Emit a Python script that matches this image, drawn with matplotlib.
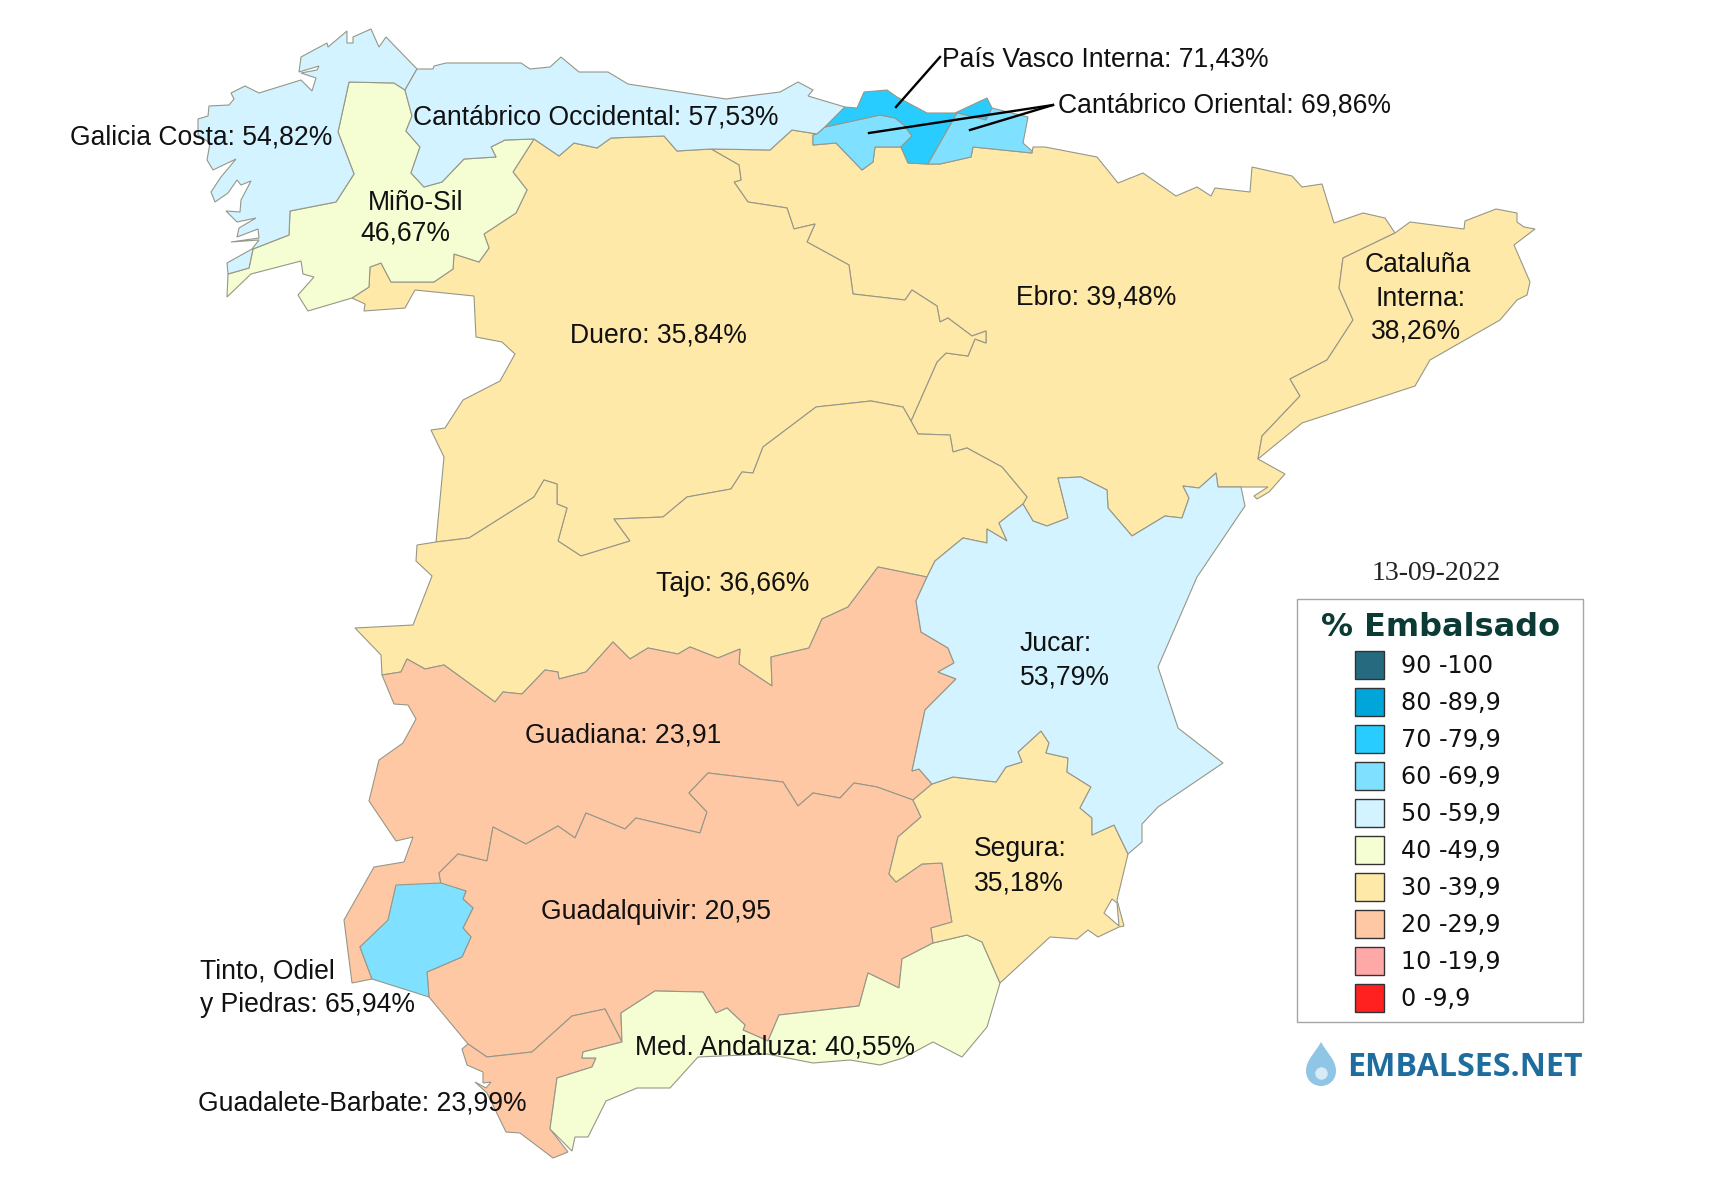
import matplotlib
matplotlib.use("Agg")
import matplotlib.pyplot as plt
from matplotlib.patches import Rectangle, PathPatch
from matplotlib.path import Path

# percent full per basin, the outlines are traced in picture pixels
names = ['Ebro', 'Duero', 'Tajo', 'Guadiana', 'Guadalquivir', 'Tinto', 'Guadalete', 'Med Andaluza',
         'Segura', 'Jucar', 'Cataluna', 'Mino', 'Galicia', 'Cant Occ', 'Cant Or 1', 'Pais Vasco', 'Cant Or 2']
values = [39.48, 35.84, 36.66, 23.91, 20.95, 65.94, 23.99, 40.55,
          35.18, 53.79, 38.26, 46.67, 54.82, 57.53, 69.86, 71.43, 69.86]

ebro = [(711,149),(770,150),(792,130),(817,134),(813,135),(813,145),(836,143),(862,170),(873,162),(875,147),(901,147),
        (908,163),(928,164),(940,164),(971,157),(973,147),(1032,153),(1033,147),(1045,147),(1097,157),(1118,183),(1143,173),
        (1176,196),(1197,187),(1211,196),(1215,188),(1250,192),(1252,167),(1292,176),(1302,187),(1322,184),(1334,223),
        (1363,213),(1385,218),(1395,233),(1343,258),(1339,288),(1353,320),(1327,360),(1290,379),(1300,396),(1262,436),
        (1258,459),(1285,474),(1269,492),(1257,499),(1254,496),(1268,487),(1241,487),(1218,487),(1216,473),(1199,488),
        (1183,486),(1189,498),(1182,518),(1165,516),(1132,536),(1108,508),(1107,490),(1081,477),(1058,478),(1068,518),
        (1047,526),(1033,521),(1023,504),(1027,497),(1002,467),(967,448),(953,452),(950,435),(918,434),(911,421),(937,362),
        (946,353),(968,356),(975,339),(986,343),(986,331),(972,336),(948,318),(940,322),(937,306),(912,290),(905,300),
        (853,294),(849,265),(807,242),(815,224),(794,229),(787,208),(748,202),(734,182),(741,180),(739,165)]
duero = [(534,139),(559,156),(574,143),(597,148),(611,138),(664,136),(677,151),(711,149),(739,165),(741,180),(734,182),
         (748,202),(787,208),(794,229),(815,224),(807,242),(849,265),(853,294),(905,300),(912,290),(937,306),(940,322),
         (948,318),(972,336),(986,331),(986,343),(975,339),(968,356),(946,353),(937,362),(911,421),(903,407),(871,401),
         (816,407),(763,447),(753,473),(742,472),(731,489),(687,497),(663,517),(614,519),(630,541),(581,556),(558,541),
         (567,508),(557,504),(557,484),(544,480),(534,497),(469,538),(436,542),(444,457),(431,430),(445,428),(463,400),
         (500,381),(515,354),(502,342),(476,337),(474,296),(415,290),(405,308),(364,311),(365,304),(352,298),(369,287),
         (370,267),(381,263),(391,282),(434,282),(453,269),(454,254),(479,262),(489,248),(484,234),(516,213),(527,190),
         (513,172)]
tajo = [(911,421),(918,434),(950,435),(953,452),(967,448),(1002,467),(1027,497),(1023,504),(999,523),(1007,541),(987,529),
        (987,543),(963,538),(935,561),(927,577),(878,567),(848,607),(822,619),(809,648),(771,657),(772,686),(739,664),
        (740,649),(718,658),(690,647),(678,654),(648,648),(630,659),(613,642),(586,672),(559,679),(558,672),(545,670),
        (522,694),(503,692),(495,702),(444,665),(425,669),(407,659),(401,672),(382,675),(381,655),(355,628),(413,625),
        (432,576),(416,561),(417,545),(436,542),(469,538),(534,497),(544,480),(557,484),(557,504),(567,508),(558,541),
        (581,556),(630,541),(614,519),(663,517),(687,497),(731,489),(742,472),(753,473),(763,447),(816,407),(871,401),
        (903,407)]
guadiana = [(382,675),(401,672),(407,659),(425,669),(444,665),(495,702),(503,692),(522,694),(545,670),(558,672),(559,679),
            (586,672),(613,642),(630,659),(648,648),(678,654),(690,647),(718,658),(740,649),(739,664),(772,686),(771,657),
            (809,648),(822,619),(848,607),(878,567),(927,577),(916,601),(921,632),(948,648),(954,663),(938,672),(956,679),
            (925,710),(912,771),(919,769),(932,784),(913,800),(877,787),(854,783),(840,798),(813,793),(798,806),(783,782),
            (708,773),(689,793),(707,812),(700,833),(636,818),(625,829),(586,813),(575,838),(558,826),(526,844),(493,827),
            (487,861),(458,854),(439,873),(441,884),(396,886),(388,921),(360,947),(372,979),(352,983),(344,920),(374,867),
            (404,862),(413,837),(396,841),(369,801),(379,760),(403,743),(416,719),(408,705),(394,704)]
guadalquivir = [(441,884),(439,873),(458,854),(487,861),(493,827),(526,844),(558,826),(575,838),(586,813),(625,829),(636,818),
                (700,833),(707,812),(689,793),(708,773),(783,782),(798,806),(813,793),(840,798),(854,783),(877,787),(913,800),
                (921,817),(898,837),(889,874),(896,882),(922,864),(942,863),(952,922),(931,928),(933,943),(902,959),(899,988),
                (868,973),(859,1006),(779,1015),(768,1041),(743,1030),(745,1025),(727,1008),(716,1013),(703,992),(655,991),
                (621,1013),(622,1042),(605,1009),(572,1016),(532,1052),(487,1057),(468,1044),(429,997),(427,972),(462,957),
                (471,937),(463,928),(473,908),(463,899),(466,891)]
tinto = [(396,885),(441,883),(466,891),(463,899),(473,908),(463,928),(471,937),(462,957),(427,972),(429,997),(372,979),
         (360,947),(388,920)]
guadalete = [(468,1044),(462,1049),(467,1065),(483,1072),(483,1083),(491,1082),(486,1088),(475,1082),(487,1093),(506,1132),
             (520,1133),(553,1158),(568,1152),(550,1129),(557,1078),(592,1067),(596,1058),(582,1058),(583,1052),(622,1042),
             (605,1009),(572,1016),(532,1052),(487,1057)]
med_andaluza = [(622,1042),(583,1052),(582,1058),(596,1058),(592,1067),(557,1078),(550,1129),(572,1151),(575,1137),(588,1137),
                (606,1101),(637,1088),(670,1088),(698,1057),(767,1054),(813,1063),(850,1060),(880,1065),(903,1058),(933,1042),
                (962,1057),(987,1027),(1000,983),(982,942),(967,935),(933,943),(902,959),(899,988),(868,973),(859,1006),
                (779,1015),(768,1041),(743,1030),(745,1025),(727,1008),(716,1013),(703,992),(655,991),(621,1013)]
segura = [(913,800),(932,784),(953,777),(996,782),(1006,767),(1022,762),(1018,752),(1041,731),(1049,743),(1046,753),(1068,758),
          (1067,772),(1091,787),(1080,808),(1092,818),(1092,835),(1114,825),(1128,854),(1117,900),(1124,926),(1119,927),
          (1098,937),(1088,930),(1077,939),(1050,937),(1000,983),(982,942),(967,935),(933,943),(931,928),(952,922),(942,863),
          (922,864),(896,882),(889,874),(898,837),(921,817)]
mar_menor = [(1112,899),(1117,903),(1119,926),(1104,913)]
jucar = [(1023,504),(1033,521),(1047,526),(1068,518),(1058,478),(1081,477),(1107,490),(1108,508),(1132,536),(1165,516),(1182,518),
         (1189,498),(1183,486),(1199,488),(1216,473),(1218,487),(1241,487),(1245,506),(1197,577),(1158,667),(1178,728),
         (1223,763),(1158,807),(1142,824),(1142,842),(1128,854),(1114,825),(1092,835),(1092,818),(1080,808),(1091,787),
         (1067,772),(1068,758),(1046,753),(1049,743),(1041,731),(1018,752),(1022,762),(1006,767),(996,782),(953,777),(932,784),
         (919,769),(912,771),(925,710),(956,679),(938,672),(954,663),(948,648),(921,632),(916,601),(927,577),(935,561),
         (963,538),(987,543),(987,529),(1007,541),(999,523)]
cataluna = [(1395,233),(1410,222),(1464,229),(1465,221),(1496,209),(1517,213),(1517,222),(1524,227),(1535,229),(1514,245),
            (1530,282),(1527,295),(1517,300),(1500,320),(1430,360),(1415,386),(1302,423),(1258,459),(1262,436),(1300,396),
            (1290,379),(1327,360),(1353,320),(1339,288),(1343,258)]
mino = [(349,82),(394,83),(405,90),(412,116),(406,131),(420,147),(411,173),(424,187),(442,182),(464,159),(496,157),(491,147),
        (505,140),(534,139),(513,172),(527,190),(516,213),(484,234),(489,248),(479,262),(454,254),(453,269),(434,282),(391,282),
        (381,263),(370,267),(369,287),(352,298),(308,311),(298,295),(314,277),(303,274),(301,261),(251,274),(227,297),(228,274),
        (249,268),(253,249),(289,235),(290,211),(336,202),(354,174),(338,132)]
galicia = [(405,90),(417,69),(386,37),(379,47),(371,29),(353,37),(353,43),(347,43),(347,31),(328,47),(327,43),(301,57),(299,72),
           (319,66),(317,70),(301,73),(316,78),(312,91),(301,80),(259,93),(245,86),(231,93),(234,99),(229,105),(209,106),(208,116),
           (198,119),(198,135),(210,143),(207,160),(213,170),(236,159),(221,177),(211,192),(215,202),(228,193),(237,180),(241,185),
           (251,181),(241,200),(240,212),(226,211),(237,222),(256,218),(239,228),(237,237),(258,229),(259,238),(231,242),(259,240),
           (252,249),(227,263),(228,274),(249,268),(253,249),(289,235),(290,211),(336,202),(354,174),(338,132),(349,82),(394,83)]
cant_occ = [(417,69),(433,69),(434,66),(446,63),(521,63),(530,69),(550,67),(561,57),(579,72),(608,72),(628,84),(726,99),(740,97),
            (780,92),(798,82),(813,90),(808,96),(845,107),(825,127),(817,134),(792,130),(770,150),(711,149),(677,151),(664,136),
            (611,138),(597,148),(574,143),(559,156),(534,139),(505,140),(491,147),(496,157),(464,159),(442,182),(424,187),(411,173),
            (420,147),(406,131),(412,116),(405,90)]
cant_or_1 = [(817,134),(825,127),(880,115),(895,118),(904,125),(912,136),(901,147),(875,147),(873,162),(862,170),(836,143),(813,145),(813,135)]
pais_vasco = [(825,127),(845,107),(857,108),(864,92),(887,90),(897,97),(927,113),(955,113),(987,98),(992,108),(986,120),(957,113),
              (928,164),(908,163),(901,147),(912,136),(904,125),(895,118),(880,115)]
cant_or_2 = [(957,113),(986,120),(992,108),(1028,117),(1023,143),(1032,151),(1032,153),(973,147),(971,157),(940,164),(928,164)]
outlines = [ebro, duero, tajo, guadiana, guadalquivir, tinto, guadalete, med_andaluza, segura, jucar, cataluna, mino, galicia,
            cant_occ, cant_or_1, pais_vasco, cant_or_2]

legend_bins = [90, 80, 70, 60, 50, 40, 30, 20, 10, 0]
legend_labels = ['90 -100', '80 -89,9', '70 -79,9', '60 -69,9', '50 -59,9', '40 -49,9', '30 -39,9', '20 -29,9', '10 -19,9', '0 -9,9']
legend_colors = ['#266a7f', '#00a5d9', '#29ccff', '#80e0ff', '#d2f3ff', '#f5fdd2', '#ffe9a8', '#ffc8a5', '#ffa8a8', '#ff2020']

labels = ['País Vasco Interna: 71,43%', 'Cantábrico Oriental: 69,86%', 'Galicia Costa: 54,82%', 'Cantábrico Occidental: 57,53%',
          'Miño-Sil', '46,67%', 'Duero: 35,84%', 'Ebro: 39,48%', 'Tajo: 36,66%', 'Jucar:', '53,79%', 'Guadiana: 23,91',
          'Guadalquivir: 20,95', 'Segura:', '35,18%', 'Tinto, Odiel', 'y Piedras: 65,94%', 'Med. Andaluza: 40,55%',
          'Guadalete-Barbate: 23,99%']
label_x = [942, 1058, 70, 413, 368, 360, 570, 1016, 656, 1020, 1020, 525, 541, 974, 974, 200, 200, 635, 198]
label_y = [59, 106, 137, 117, 203, 234, 335, 298, 584, 644, 678, 735, 912, 849, 883, 972, 1005, 1048, 1103]
catalan_lines = ['Cataluña', 'Interna:', '38,26%']
catalan_x = [1418, 1421, 1416]
catalan_y = [265, 299, 332]

plt.rcParams['font.family'] = ['Liberation Sans', 'DejaVu Sans']
fs = 19.1
fig = plt.figure(figsize=(17.32, 11.90), dpi=100)
ax = fig.add_axes([0, 0, 1, 1])
ax.set_xlim(0, 1732)
ax.set_ylim(1190, 0)
ax.axis('off')


def bin_color(v):
    for lo, c in zip(legend_bins, legend_colors):
        if v >= lo:
            return c
    return legend_colors[-1]


for outline, v in zip(outlines, values):
    xs = [p[0] for p in outline]
    ys = [p[1] for p in outline]
    ax.fill(xs, ys, facecolor=bin_color(v), edgecolor='#979788', linewidth=0.8, joinstyle='miter')
ax.fill([p[0] for p in mar_menor], [p[1] for p in mar_menor], facecolor='white', edgecolor='#979788', linewidth=0.8)

# leader lines
ax.plot([940, 896], [57, 107], color='black', lw=1.7)
ax.plot([1053, 869], [105, 133], color='black', lw=1.7)
ax.plot([1053, 970], [105, 130], color='black', lw=1.7)

for t, x, y in zip(labels, label_x, label_y):
    ax.text(x, y, t, fontsize=fs, color='#111111', ha='left', va='center')
for t, x, y in zip(catalan_lines, catalan_x, catalan_y):
    ax.text(x, y, t, fontsize=fs, color='#111111', ha='center', va='center')

# legend
ax.text(1436, 573, '13-09-2022', family='Liberation Serif', fontsize=20, color='#222222', ha='center', va='center')
ax.add_patch(Rectangle((1297, 599), 286, 423, facecolor='white', edgecolor='#a6a6a6', linewidth=1.0))
ax.text(1441, 628, '% Embalsado', family='DejaVu Sans', fontweight='bold', fontsize=23, color='#0c3a34', ha='center', va='center')
for i, (t, c) in enumerate(zip(legend_labels, legend_colors)):
    yc = 665 + i * 37
    ax.add_patch(Rectangle((1355, yc - 14), 29, 28, facecolor=c, edgecolor='#333333', linewidth=1.0))
    ax.text(1401, yc + 1, t, family='DejaVu Sans', fontsize=17.2, color='#111111', ha='left', va='center')

# logo
drop = Path([(1321, 1042), (1315, 1053), (1306, 1060), (1306, 1071), (1306, 1080), (1313, 1086), (1321, 1086),
             (1329, 1086), (1336, 1080), (1336, 1071), (1336, 1060), (1327, 1053), (1321, 1042)],
            [Path.MOVETO, Path.CURVE4, Path.CURVE4, Path.CURVE4, Path.CURVE4, Path.CURVE4, Path.CURVE4,
             Path.CURVE4, Path.CURVE4, Path.CURVE4, Path.CURVE4, Path.CURVE4, Path.CURVE4])
ax.add_patch(PathPatch(drop, facecolor='#8fc6e6', edgecolor='none'))
ax.plot([1321], [1073], marker='o', ms=9, mfc='#d5ebf7', mec='none')
ax.text(1347, 1067, 'EMBALSES.NET', family='Open Sans', fontweight='bold', fontsize=23.2, color='#1f6d9e', ha='left', va='center')

plt.savefig('out.png', dpi=100)
